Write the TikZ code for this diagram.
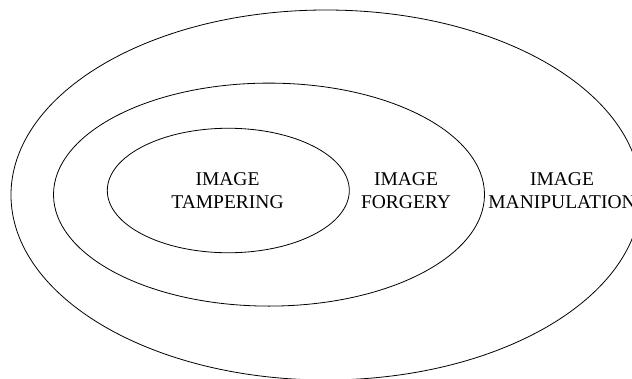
\documentclass[tikz,border=0pt]{standalone}
\usepackage{fontspec}
\setmainfont{Liberation Serif}
\usepackage{tikz}
\usetikzlibrary{shapes.geometric,positioning}
\tikzstyle{ring} = [ellipse, draw, line width=0.8pt, inner sep=0pt, outer sep=0pt]
\tikzstyle{tag} = [align=center, inner sep=0pt, font=\fontsize{19.5}{22.3}\selectfont]

\begin{document}
\begin{tikzpicture}[x=1pt, y=-1pt]
\useasboundingbox (0,0) rectangle (632,378);
\clip (0,0) rectangle (632,378);
% nested sets
\node[ring, minimum width=630pt, minimum height=370pt] (manip) at (326,195) {};
\node[ring, minimum width=431pt, minimum height=223pt] (forgery) at (269,194.6) {};
\node[ring, minimum width=242pt, minimum height=124.5pt] (tamper) at (228.3,190.5) {};

\node[tag] (tampertxt) at (227.5,190.5) {IMAGE\\TAMPERING};
\node[tag] (forgerytxt) at (406,190.5) {IMAGE\\FORGERY};
\node[tag] (maniptxt) at (562,190.5) {IMAGE\\MANIPULATION};
\end{tikzpicture}
\end{document}
